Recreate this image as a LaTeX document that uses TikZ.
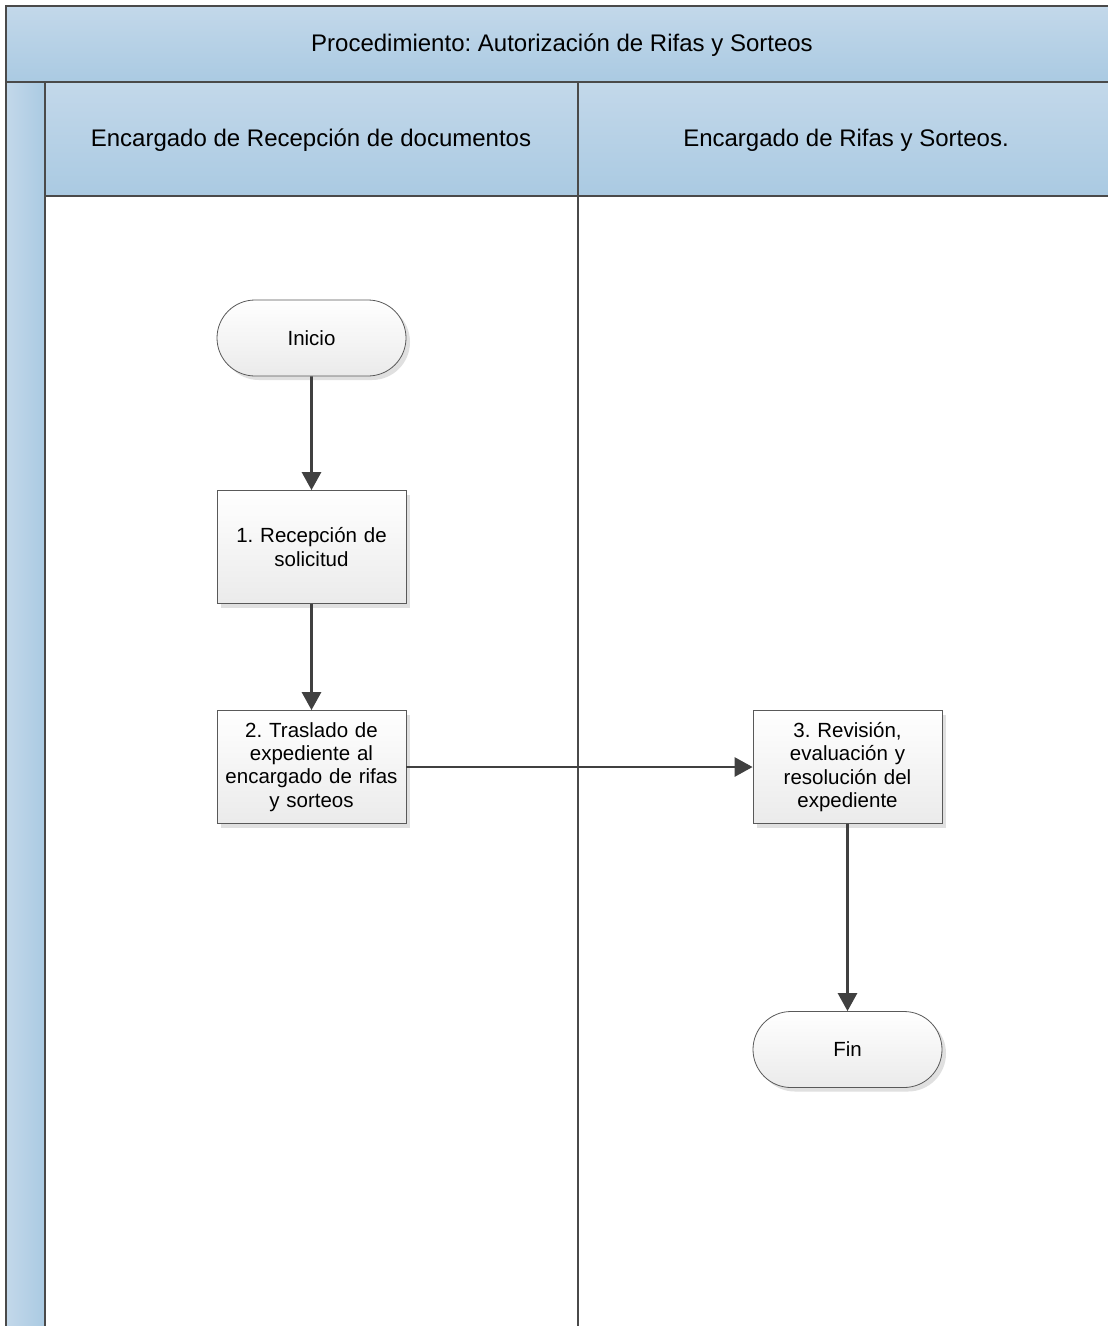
\documentclass[tikz,border=0pt]{standalone}
\usepackage{fontspec}
\setmainfont{Liberation Sans}
\frenchspacing
\usetikzlibrary{arrows.meta,shapes.misc,shadows}
\definecolor{hdtop}{HTML}{C3D8EA}
\definecolor{hdbot}{HTML}{AACAE2}
\definecolor{lanecol}{HTML}{4A4A4A}
\definecolor{arrcol}{HTML}{404040}
\tikzset{
  hdr/.style={draw=lanecol, line width=1.6pt, top color=hdtop, bottom color=hdbot},
  lane/.style={draw=lanecol, line width=1.6pt},
  proc/.style={draw=black!65, line width=0.8pt, top color=white, bottom color=black!8,
    minimum width=189pt, minimum height=113pt, align=center, text width=180pt,
    font=\fontsize{20.5}{23.3}\selectfont, drop shadow={shadow xshift=4pt, shadow yshift=-4pt, fill=black!12, opacity=1}},
  term/.style={draw=black!65, line width=0.8pt, rounded rectangle, top color=white, bottom color=black!8,
    minimum width=189pt, minimum height=76pt, inner xsep=0pt, font=\fontsize{20.5}{23.3}\selectfont,
    drop shadow={shadow xshift=4pt, shadow yshift=-4pt, fill=black!12, opacity=1}},
  flow/.style={draw=arrcol, line width=2.8pt, -{Triangle[length=18pt,width=19pt]}},
  lbl/.style={font=\fontsize{24}{28}\selectfont}
}
\begin{document}
\begin{tikzpicture}[x=1pt,y=-1pt]
\useasboundingbox (0,0) rectangle (1108,1326);
\fill[white] (0,0) rectangle (1108,1326);
% title band
\path[hdr] (6,6) rectangle (1120,82);
\node[lbl] (title) at (562,45) {Procedimiento: Autorización de Rifas y Sorteos};
% left bar
\path[hdr, left color=hdtop, right color=hdbot] (6,82) rectangle (45,1340);
% lane headers
\path[hdr] (45,82) rectangle (578,196);
\path[hdr] (578,82) rectangle (1120,196);
\node[lbl] (h1) at (311,140) {Encargado de Recepción de documentos};
\node[lbl] (h2) at (846,140) {Encargado de Rifas y Sorteos.};
% lane divider
\draw[lane] (578,196) -- (578,1340);
% nodes
\node[term] (inicio) at (311.5,338) {Inicio};
\node[proc] (n1) at (311.5,547) {1. Recepción de\\solicitud};
\node[proc] (n2) at (311.5,767) {2. Traslado de\\expediente al\\encargado de rifas\\y sorteos};
\node[proc] (n3) at (847.5,767) {3. Revisión,\\evaluación y\\resolución del\\expediente};
\node[term] (fin) at (847.5,1049.5) {Fin};
% connectors
\draw[flow] (inicio) -- (n1);
\draw[flow] (n1) -- (n2);
\draw[flow] (n2) -- (n3);
\draw[flow] (n3) -- (fin);
\end{tikzpicture}
\end{document}
